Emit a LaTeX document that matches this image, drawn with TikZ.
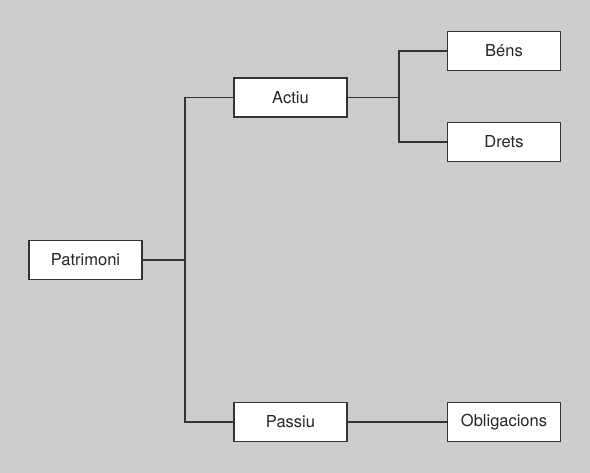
\documentclass[tikz,border=0pt]{standalone}
\usepackage{fontspec}
\setmainfont{TeX Gyre Heros}
\usepackage{tikz}
\usetikzlibrary{positioning}
\definecolor{bggray}{HTML}{CCCCCC}
\definecolor{linegray}{HTML}{333333}

\begin{document}
\begin{tikzpicture}[x=1bp, y=-1bp, line width=1.1bp, draw=linegray]

\tikzstyle{concept}=[
    rectangle,
    draw=linegray,
    fill=white,
    line width=1.2bp,
    minimum width=113bp,
    minimum height=39bp,
    inner sep=0pt,
    text=black!85,
    font=\fontsize{16.5bp}{19bp}\selectfont
]

\fill[bggray] (0,0) rectangle (590,473);
\useasboundingbox (0,0) rectangle (590,473);

\node[concept] (Pat) at (85.5,260) {Patrimoni};
\node[concept] (Act) at (290.5,97.5) {Actiu};
\node[concept] (Pas) at (290.5,422) {Passiu};
\node[concept] (Bens) at (504,51) {Béns};
\node[concept] (Drets) at (504,142) {Drets};
\node[concept] (Obl) at (504,422) {Obligacions};

\coordinate (Fork1) at (185,260);
\coordinate (Fork2) at (399,97.5);

\draw (Pat) -- (Fork1);
\draw (Act.west) -| (Fork1);
\draw (Pas.west) -| (Fork1);
\draw (Act) -- (Fork2);
\draw (Bens.west) -| (Fork2);
\draw (Drets.west) -| (Fork2);
\draw (Pas) -- (Obl);

\end{tikzpicture}
\end{document}
